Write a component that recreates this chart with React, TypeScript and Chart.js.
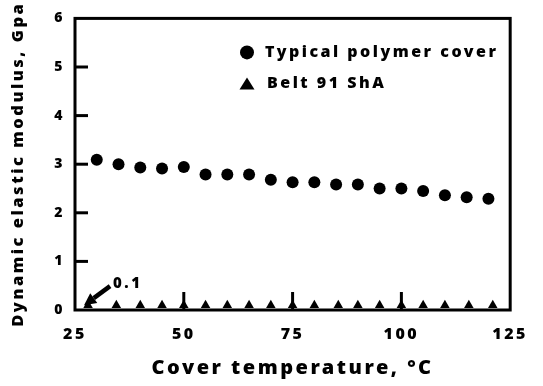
import React, { useEffect, useRef } from 'react';
import { Chart, registerables } from 'chart.js';

Chart.register(...registerables);

// ---- data ----
const polymerTemps = [30, 35, 40, 45, 50, 55, 60, 65, 70, 75, 80, 85, 90, 95, 100, 105, 110, 115, 120];
const polymerModulus = [3.09, 3.0, 2.93, 2.91, 2.94, 2.79, 2.79, 2.79, 2.68, 2.63, 2.63, 2.58, 2.58, 2.5, 2.5, 2.45, 2.36, 2.32, 2.29];
const beltTemps = [28, 34.5, 40, 45, 50, 55, 60, 65, 70, 75, 80, 85.5, 90, 95, 100, 105, 110, 115.5, 121];
const beltModulus = [0.1, 0.1, 0.1, 0.1, 0.1, 0.1, 0.1, 0.1, 0.1, 0.1, 0.1, 0.1, 0.1, 0.1, 0.1, 0.1, 0.1, 0.1, 0.1];
const xTickValues = [25, 50, 75, 100, 125];
const yTickValues = [0, 1, 2, 3, 4, 5, 6];
const seriesLabels = ['Typical polymer cover', 'Belt 91 ShA'];
const annotationText = '0.1';
const xTitle = 'Cover temperature, \u00B0C';
const yTitle = 'Dynamic elastic modulus, Gpa';

const FONT = '"Noto Sans", "DejaVu Sans", sans-serif';
const WEIGHT = '900';
const LETTER_SPACING = '2.5px';

function setSpacing(chart: any) {
  try {
    chart.ctx.letterSpacing = LETTER_SPACING;
  } catch (e) {
    /* ignore */
  }
}

export default function App() {
  const ref = useRef<HTMLCanvasElement>(null);

  useEffect(() => {
    const canvas = ref.current;
    if (!canvas) return;

    const spacingPlugin = {
      id: 'spacing',
      beforeLayout: (chart: any) => setSpacing(chart),
      beforeDraw: (chart: any) => setSpacing(chart),
    };

    const framePlugin = {
      id: 'frame',
      afterDraw: (chart: any) => {
        const { ctx, chartArea } = chart;
        const { left, right, top, bottom } = chartArea;
        const xs = chart.scales.x;
        const ys = chart.scales.y;
        ctx.save();
        ctx.strokeStyle = '#000';
        ctx.fillStyle = '#000';
        ctx.lineWidth = 3;
        ctx.lineCap = 'butt';
        // frame
        ctx.strokeRect(left, top, right - left, bottom - top);
        // inward y ticks
        ys.ticks.forEach((t: any) => {
          if (t.value <= ys.min || t.value >= ys.max) return;
          const y = ys.getPixelForValue(t.value);
          ctx.beginPath();
          ctx.moveTo(left, y);
          ctx.lineTo(left + 13, y);
          ctx.stroke();
        });
        // inward x ticks
        xs.ticks.forEach((t: any) => {
          if (t.value <= xs.min || t.value >= xs.max) return;
          const x = xs.getPixelForValue(t.value);
          ctx.beginPath();
          ctx.moveTo(x, bottom);
          ctx.lineTo(x, bottom - 18);
          ctx.stroke();
        });

        // legend
        const lx = left + 172;
        const ly1 = top + 34;
        const ly2 = top + 65;
        ctx.font = `${WEIGHT} 16px ${FONT}`;
        ctx.textBaseline = 'middle';
        ctx.textAlign = 'left';
        ctx.beginPath();
        ctx.arc(lx, ly1, 7, 0, Math.PI * 2);
        ctx.fill();
        ctx.fillText(chart.data.datasets[0].label, lx + 18, ly1);
        ctx.beginPath();
        ctx.moveTo(lx - 7.5, ly2 + 6);
        ctx.lineTo(lx + 7.5, ly2 + 6);
        ctx.lineTo(lx, ly2 - 6);
        ctx.closePath();
        ctx.fill();
        ctx.fillText(chart.data.datasets[1].label, lx + 20, ly2);

        // annotation arrow to first belt point
        const p = chart.getDatasetMeta(1).data[0];
        if (p) {
          const tipX = p.x - 4;
          const tipY = p.y;
          const tailX = p.x + 22;
          const tailY = p.y - 19;
          const ang = Math.atan2(tipY - tailY, tipX - tailX);
          const headLen = 12;
          const headW = 6;
          const bx = tipX - Math.cos(ang) * headLen;
          const by = tipY - Math.sin(ang) * headLen;
          ctx.lineWidth = 4.5;
          ctx.beginPath();
          ctx.moveTo(tailX, tailY);
          ctx.lineTo(bx, by);
          ctx.stroke();
          ctx.beginPath();
          ctx.moveTo(tipX, tipY);
          ctx.lineTo(bx - Math.sin(ang) * headW, by + Math.cos(ang) * headW);
          ctx.lineTo(bx + Math.sin(ang) * headW, by - Math.cos(ang) * headW);
          ctx.closePath();
          ctx.fill();
          ctx.font = `${WEIGHT} 15px ${FONT}`;
          ctx.textBaseline = 'middle';
          ctx.textAlign = 'left';
          ctx.fillText(annotationText, p.x + 25, p.y - 21);
        }
        ctx.restore();
      },
    };

    const chart = new Chart(canvas, {
      type: 'scatter',
      data: {
        datasets: [
          {
            label: seriesLabels[0],
            data: polymerTemps.map((t, i) => ({ x: t, y: polymerModulus[i] })),
            pointStyle: 'circle',
            pointRadius: 6,
            pointHoverRadius: 6,
            backgroundColor: '#000',
            borderColor: '#000',
            borderWidth: 0,
          },
          {
            label: seriesLabels[1],
            data: beltTemps.map((t, i) => ({ x: t, y: beltModulus[i] })),
            pointStyle: 'triangle',
            pointRadius: 5.5,
            pointHoverRadius: 5.5,
            backgroundColor: '#000',
            borderColor: '#000',
            borderWidth: 0,
          },
        ],
      },
      options: {
        responsive: false,
        devicePixelRatio: 1,
        animation: false,
        layout: { padding: { left: 0, top: 13, right: 28, bottom: 0 } },
        plugins: {
          legend: { display: false },
          tooltip: { enabled: false },
        },
        scales: {
          x: {
            type: 'linear',
            min: 25,
            max: 125,
            afterBuildTicks: (s: any) => {
              s.ticks = xTickValues.map((v) => ({ value: v }));
            },
            afterFit: (s: any) => {
              s.height = 76;
            },
            grid: { display: false, drawTicks: false },
            border: { display: false },
            ticks: {
              color: '#000',
              padding: 15,
              maxRotation: 0,
              font: { family: FONT, size: 16, weight: WEIGHT },
            },
            title: {
              display: true,
              text: xTitle,
              color: '#000',
              padding: { top: 0, bottom: 6 },
              font: { family: FONT, size: 20, weight: WEIGHT },
            },
          },
          y: {
            type: 'linear',
            min: 0,
            max: 6,
            afterBuildTicks: (s: any) => {
              s.ticks = yTickValues.map((v) => ({ value: v }));
            },
            afterFit: (s: any) => {
              s.width = 75;
            },
            grid: { display: false, drawTicks: false },
            border: { display: false },
            ticks: {
              color: '#000',
              padding: 10,
              font: { family: FONT, size: 14, weight: WEIGHT },
            },
            title: {
              display: true,
              text: yTitle,
              color: '#000',
              padding: { top: 8, bottom: 0 },
              font: { family: FONT, size: 16.5, weight: WEIGHT },
            },
          },
        },
      },
      plugins: [spacingPlugin, framePlugin],
    } as any);

    return () => chart.destroy();
  }, []);

  return (
    <div style={{ position: 'fixed', left: 0, top: 0, width: 543, height: 386, background: '#fff' }}>
      <canvas ref={ref} width={543} height={386} style={{ display: 'block', width: 543, height: 386 }} />
    </div>
  );
}
